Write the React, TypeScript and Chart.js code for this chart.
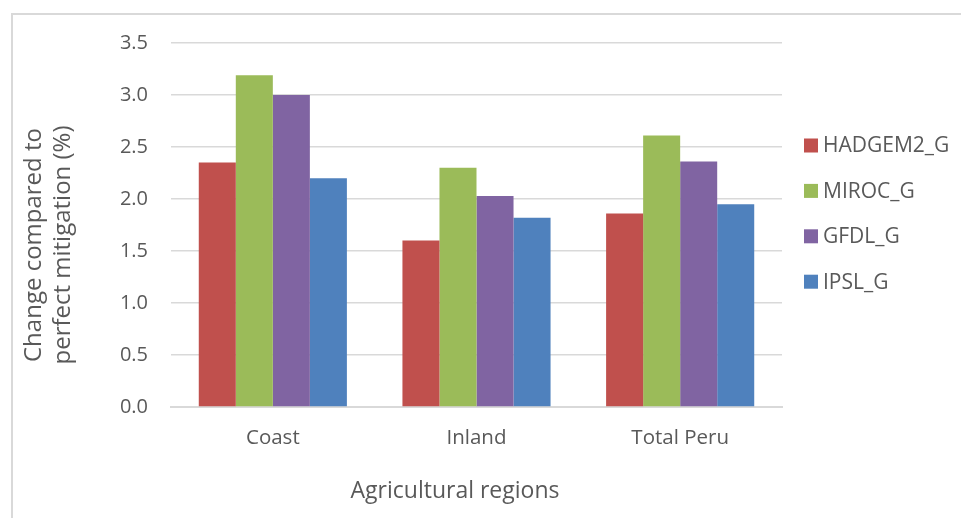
import React, { useEffect, useRef } from "react";
import { Chart, registerables } from "chart.js";

Chart.register(...registerables);

// Agricultural regions on the category axis
const regions = ["Coast", "Inland", "Total Peru"];

// Change compared to perfect mitigation (%), one array per climate model
const hadgem2G = [2.35, 1.6, 1.86];
const mirocG = [3.19, 2.3, 2.61];
const gfdlG = [3.0, 2.03, 2.36];
const ipslG = [2.2, 1.82, 1.95];

const seriesNames = ["HADGEM2_G", "MIROC_G", "GFDL_G", "IPSL_G"];
const seriesValues = [hadgem2G, mirocG, gfdlG, ipslG];
const seriesColors = ["#C0504D", "#9BBB59", "#8064A2", "#4F81BD"];

// Value axis range and tick step
const yMin = 0;
const yMax = 3.5;
const yStep = 0.5;

const xTitle = "Agricultural regions";
const yTitle = ["Change compared to", "perfect mitigation (%)"];

const FONT = '"Open Sans", "DejaVu Sans", sans-serif';
const TEXT = "#595959";
const GRID = "#d9d9d9";

// Axis titles and the legend drawn onto the canvas after the chart
const sideText = {
  id: "sideText",
  afterDraw(chart: any) {
    const ctx = chart.ctx as CanvasRenderingContext2D;
    ctx.save();
    ctx.fillStyle = TEXT;

    // x-axis title
    ctx.font = `23px ${FONT}`;
    ctx.textAlign = "center";
    ctx.textBaseline = "middle";
    ctx.fillText(xTitle, 455, 491);

    // y-axis title, two rotated lines
    ctx.save();
    ctx.font = `24px ${FONT}`;
    ctx.translate(34, 245);
    ctx.rotate(-Math.PI / 2);
    yTitle.forEach((line, i) => ctx.fillText(line, 0, i * 29));
    ctx.restore();

    // legend
    ctx.font = `21px ${FONT}`;
    ctx.textAlign = "left";
    chart.data.datasets.forEach((ds: any, i: number) => {
      const cy = 145.5 + i * 45.4;
      ctx.fillStyle = ds.backgroundColor;
      ctx.fillRect(804, cy - 7, 14, 14);
      ctx.fillStyle = TEXT;
      ctx.fillText(ds.label, 823, cy + 1);
    });
    ctx.restore();
  },
};

export default function App() {
  const canvasRef = useRef<HTMLCanvasElement | null>(null);

  useEffect(() => {
    if (!canvasRef.current) return;
    const chart = new Chart(canvasRef.current, {
      type: "bar",
      data: {
        labels: regions,
        datasets: seriesNames.map((name, i) => ({
          label: name,
          data: seriesValues[i],
          backgroundColor: seriesColors[i],
          borderWidth: 0,
          categoryPercentage: 4 / 5.5,
          barPercentage: 1,
        })),
      },
      options: {
        animation: false,
        responsive: false,
        maintainAspectRatio: false,
        layout: { padding: { top: 43, right: 179, bottom: 0, left: 0 } },
        plugins: {
          legend: { display: false },
          tooltip: { enabled: false },
          title: { display: false },
        },
        scales: {
          x: {
            grid: { display: false, drawTicks: false },
            border: { display: true, color: GRID, width: 2 },
            ticks: {
              color: TEXT,
              font: { family: FONT, size: 20.5 },
              padding: 19,
            },
            afterFit: (scale: any) => {
              scale.height = 111;
            },
          },
          y: {
            min: yMin,
            max: yMax,
            grid: { color: GRID, lineWidth: 1.5, drawTicks: false },
            border: { display: false },
            ticks: {
              stepSize: yStep,
              color: TEXT,
              font: { family: FONT, size: 20 },
              padding: 23,
              callback: (v: any) => Number(v).toFixed(1),
            },
            afterFit: (scale: any) => {
              scale.width = 171;
            },
          },
        },
      },
      plugins: [sideText],
    });
    return () => chart.destroy();
  }, []);

  return (
    <div
      style={{
        position: "fixed",
        left: 0,
        top: 0,
        width: 961,
        height: 518,
        overflow: "hidden",
        background: "#ffffff",
      }}
    >
      <canvas
        ref={canvasRef}
        width={961}
        height={518}
        style={{ position: "absolute", left: 0, top: 0, width: 961, height: 518 }}
      />
      <div
        style={{
          position: "absolute",
          left: 11,
          top: 13,
          width: 1000,
          height: 600,
          border: `2px solid ${GRID}`,
          pointerEvents: "none",
        }}
      />
    </div>
  );
}
